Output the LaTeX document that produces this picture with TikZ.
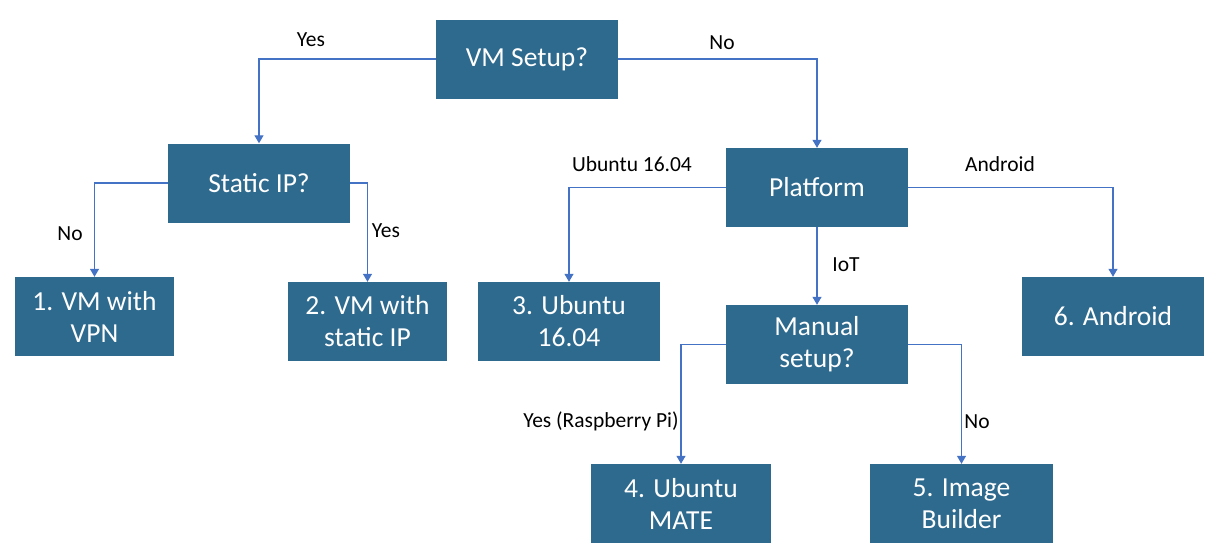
\documentclass[tikz,border=0pt]{standalone}
\usepackage{fontspec}
\setmainfont{Carlito}
\usetikzlibrary{arrows.meta}
\definecolor{boxblue}{HTML}{2E6A8E}
\definecolor{lineblue}{HTML}{4472C4}
\tikzset{
  box/.style={fill=boxblue, draw=none, text=white, inner sep=0pt, align=center,
    minimum height=79pt, font=\fontsize{27.5}{32}\selectfont},
  wide/.style={minimum width=182pt},
  narrow/.style={minimum width=159pt},
  arr/.style={draw=lineblue, line width=1.2pt, -{Triangle[width=9pt,length=8pt]}},
  lbl/.style={inner sep=0pt, font=\fontsize{21.5}{25}\selectfont, text=black}
}
\begin{document}
\begin{tikzpicture}[x=1pt,y=-1pt]
\useasboundingbox (0,0) rectangle (1216,558);
\node[box,wide] (vm) at (527,59) {VM Setup?};
\node[box,wide] (sip) at (259,183) {Static IP?};
\node[box,narrow] (b1) at (94.5,316.5) {1. VM with\\VPN};
\node[box,narrow] (b2) at (367.5,321.5) {2. VM with\\static IP};
\node[box,wide] (b3) at (569,321.5) {3. Ubuntu\\16.04};
\node[box,wide] (plat) at (817,187.5) {Platform};
\node[box,wide] (man) at (817,344.5) {Manual\\setup?};
\node[box,wide] (b6) at (1113,316.5) {6. Android};
\node[box,minimum width=180pt] (b4) at (681,503.5) {4. Ubuntu\\MATE};
\node[box,minimum width=183pt] (b5) at (961.5,503.5) {5. Image\\Builder};

\draw[arr] (vm.west) -| (sip.north);
\draw[arr] (vm.east) -| (plat.north);
\draw[arr] (sip.west) -| (b1.north);
\draw[arr] (sip.east) -| (b2.north);
\draw[arr] (plat.west) -| (b3.north);
\draw[arr] (plat.east) -| (b6.north);
\draw[arr] (plat.south) -- (man.north);
\draw[arr] (man.west) -| (b4.north);
\draw[arr] (man.east) -| (b5.north);

\node[lbl] (l1) at (311,40) {Yes};
\node[lbl] (l2) at (722,43) {No};
\node[lbl] (l3) at (70,234) {No};
\node[lbl] (l4) at (386,231) {Yes};
\node[lbl] (l5) at (632,164) {Ubuntu 16.04};
\node[lbl] (l6) at (1000,164) {Android};
\node[lbl] (l7) at (846,265) {IoT};
\node[lbl] (l8) at (601,421) {Yes (Raspberry Pi)};
\node[lbl] (l9) at (977,422) {No};
\end{tikzpicture}
\end{document}
